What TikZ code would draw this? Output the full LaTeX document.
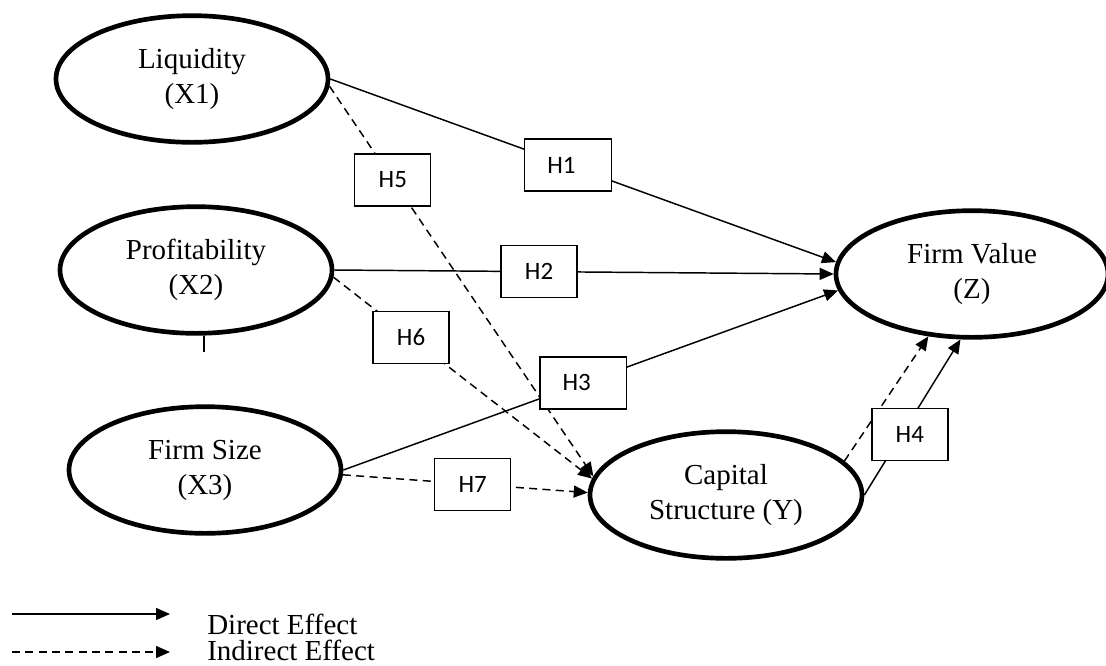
\documentclass[tikz,border=0pt]{standalone}
\usepackage{fontspec}
\setmainfont{Liberation Serif}
\newfontfamily\boxfont{Carlito}
\usetikzlibrary{arrows.meta,shapes.geometric}
\tikzset{
	construct/.style = {
		ellipse,
		draw,
		fill           = white,
		line width     = 3.5pt,
		minimum width  = 204pt,
		minimum height = 95pt,
		inner sep      = 0pt,
		align          = center,
		font           = \fontsize{21.75}{26.25}\selectfont
	},
	hbox/.style = {
		draw,
		solid,
		fill           = white,
		line width     = 1pt,
		minimum width  = 57pt,
		minimum height = 39pt,
		inner sep      = 0pt,
		font           = \boxfont\fontsize{18.75}{22}\selectfont
	},
	hwide/.style      = {hbox, text width = 31pt, align = left, inner xsep = 17pt},
	legendtext/.style = {anchor = base west, inner sep = 0pt, font = \fontsize{21.75}{26.25}\selectfont},
	direct/.style     = {line width = 1.1pt, -{Triangle[length = 10.5pt, width = 9pt]}},
	indirect/.style   = {direct, dash pattern = on 6pt off 4pt}
}

\begin{document}
\begin{tikzpicture}[x = 0.75pt, y = -0.75pt]
	\useasboundingbox (0,0) rectangle (1106,665);
	% variables
	\node[construct] (liq)   at (192,79)  {Liquidity\\(X1)};
	\node[construct] (prof)  at (196,270) {Profitability\\(X2)};
	\node[construct] (fsize) at (205,470) {Firm Size\\(X3)};
	\node[construct] (fval)  at (972,274) {Firm Value\\(Z)};
	\node[construct] (capst) at (726,495) {Capital\\Structure (Y)};
	\draw[line width = 1.1pt] ([xshift = 6pt]prof.south) -- ++(0,16);
	% indirect effects
	\draw[indirect] (liq.-3)   -- (capst.172) node[hbox, pos = 0.24] (h5) {H5};
	\draw[indirect] (prof.-3)  -- (capst.173) node[hbox, pos = 0.30] (h6) {H6};
	\draw[indirect] (fsize.-2) -- (capst.179) node[hbox, pos = 0.53] (h7) {H7};
	\draw[indirect] (capst.16) -- (fval.235);
	% direct effects
	\draw[direct] (liq.east)   -- (fval.175)  node[hwide, pos = 0.47] (h1) {H1};
	\draw[direct] (prof.east)  -- (fval.west) node[hbox, pos = 0.41]  (h2) {H2};
	\draw[direct] (fsize.east) -- (fval.187)  node[hwide, pos = 0.485] (h3) {H3};
	\draw[direct] (capst.east) -- (fval.260)  node[hbox, pos = 0.39, xshift = 6pt] (h4) {H4};
	% legend
	\coordinate (ds) at (12,614);
	\coordinate (de) at (170,614);
	\coordinate (is) at (12,652);
	\coordinate (ie) at (170,652);
	\draw[direct] (ds) -- (de);
	\draw[indirect] (is) -- (ie);
	\node[legendtext] (dtext) at (207,634) {Direct Effect};
	\node[legendtext] (itext) at (207,660) {Indirect Effect};
\end{tikzpicture}
\end{document}
